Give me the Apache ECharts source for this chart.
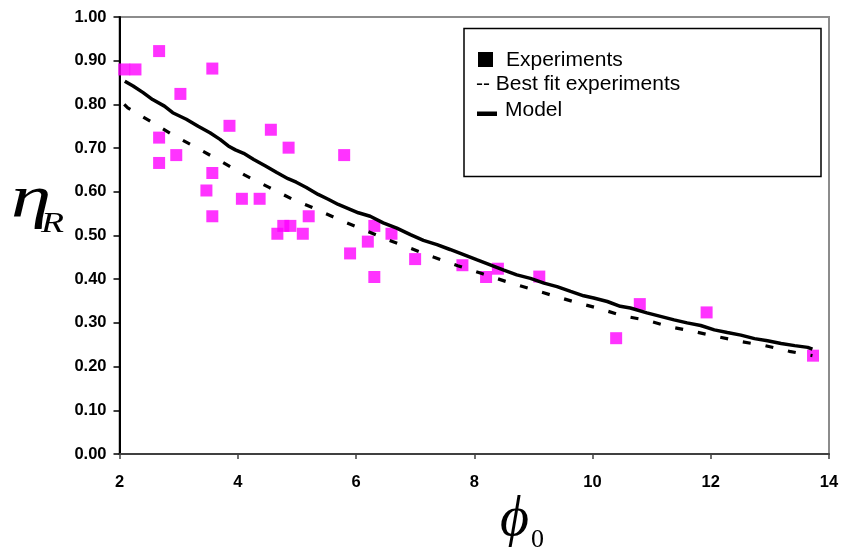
<!DOCTYPE html>
<html>
<head>
<meta charset="utf-8">
<script src="https://cdn.jsdelivr.net/npm/echarts@6/dist/echarts.min.js"></script>
<style>
html,body{margin:0;padding:0;background:#fff;}
#chart{width:844px;height:552px;}
</style>
</head>
<body>
<div id="chart"></div>
<script>
// Experiments (phi0, etaR)
const expX = [2.08, 2.27, 2.67, 3.57, 3.03, 2.67, 2.96, 2.67, 3.86, 4.56, 4.86, 5.80, 3.57, 3.47, 4.07, 4.37, 3.57, 4.67, 4.77, 4.89, 5.10, 5.20, 6.31, 6.20, 5.90, 6.31, 6.60, 7.00, 7.80, 8.20, 8.40, 9.10, 10.40, 10.80, 11.93, 13.73];
const expY = [0.880, 0.880, 0.922, 0.882, 0.824, 0.724, 0.684, 0.666, 0.751, 0.742, 0.701, 0.684, 0.643, 0.603, 0.584, 0.584, 0.544, 0.504, 0.522, 0.522, 0.504, 0.544, 0.522, 0.486, 0.459, 0.405, 0.504, 0.446, 0.432, 0.405, 0.424, 0.406, 0.265, 0.343, 0.324, 0.225];

// Best fit experiments (dashed)
const fitX = [2.08, 2.14, 2.54, 2.93, 3.33, 3.74, 4.12, 4.53, 4.91, 5.33, 5.72, 6.12, 6.52, 6.92, 7.32, 7.72, 8.13, 8.53, 8.92, 9.32, 9.72, 10.11, 10.52, 10.92, 11.31, 11.72, 12.13, 12.52, 12.92, 13.33, 13.72];
const fitY = [0.800, 0.792, 0.760, 0.728, 0.699, 0.668, 0.638, 0.610, 0.584, 0.560, 0.536, 0.514, 0.491, 0.471, 0.450, 0.431, 0.413, 0.395, 0.379, 0.363, 0.347, 0.333, 0.316, 0.306, 0.291, 0.280, 0.268, 0.257, 0.248, 0.235, 0.225];

// Model (solid)
const modelX = [2.09, 2.23, 2.40, 2.56, 2.76, 2.90, 3.13, 3.33, 3.53, 3.70, 3.84, 3.96, 4.10, 4.27, 4.47, 4.66, 4.85, 4.99, 5.16, 5.36, 5.53, 5.70, 5.90, 6.04, 6.24, 6.46, 6.69, 6.92, 7.14, 7.37, 7.59, 7.82, 8.05, 8.27, 8.50, 8.72, 8.95, 9.18, 9.40, 9.63, 9.85, 10.02, 10.25, 10.47, 10.64, 10.92, 11.15, 11.38, 11.60, 11.83, 12.06, 12.28, 12.51, 12.74, 12.96, 13.19, 13.42, 13.64, 13.72];
const modelY = [0.853, 0.842, 0.827, 0.811, 0.796, 0.781, 0.766, 0.750, 0.735, 0.720, 0.705, 0.696, 0.688, 0.674, 0.659, 0.644, 0.630, 0.622, 0.610, 0.594, 0.583, 0.571, 0.560, 0.552, 0.544, 0.529, 0.517, 0.502, 0.489, 0.479, 0.468, 0.456, 0.444, 0.433, 0.421, 0.410, 0.402, 0.391, 0.383, 0.372, 0.362, 0.357, 0.349, 0.338, 0.334, 0.323, 0.315, 0.307, 0.300, 0.294, 0.284, 0.278, 0.272, 0.264, 0.259, 0.253, 0.248, 0.244, 0.240];

const xTicks = [2, 4, 6, 8, 10, 12, 14];
const yTicks = [0.00, 0.10, 0.20, 0.30, 0.40, 0.50, 0.60, 0.70, 0.80, 0.90, 1.00];

const legendNames = ['Experiments', 'Best fit experiments', 'Model'];

const zip = (xs, ys) => xs.map((x, i) => [x, ys[i]]);

const chart = echarts.init(document.getElementById('chart'), null, {renderer: 'canvas'});

const labelFont = {fontFamily: 'Liberation Sans, Arial, sans-serif', fontSize: 16.5, fontWeight: 'bold', color: '#000'};
const legFont = 'normal 21px "Liberation Sans", Arial, sans-serif';

chart.setOption({
  backgroundColor: '#fff',
  animation: false,
  grid: {
    left: 119.5, right: 15, top: 17, bottom: 98,
    show: true, borderColor: '#8c8c8c', borderWidth: 2, backgroundColor: 'transparent'
  },
  xAxis: {
    type: 'value', min: xTicks[0], max: xTicks[xTicks.length - 1], interval: 2,
    axisLine: {show: true, onZero: false, lineStyle: {color: '#404040', width: 2}},
    axisTick: {show: true, length: 5, lineStyle: {color: '#404040', width: 1.5}},
    splitLine: {show: false},
    axisLabel: Object.assign({margin: 20, formatter: v => String(v)}, labelFont)
  },
  yAxis: {
    type: 'value', min: yTicks[0], max: yTicks[yTicks.length - 1], interval: 0.1,
    axisLine: {show: true, onZero: false, lineStyle: {color: '#000', width: 2}},
    axisTick: {show: true, length: 6, lineStyle: {color: '#000', width: 1.5}},
    splitLine: {show: false},
    axisLabel: Object.assign({margin: 13, formatter: v => v.toFixed(2)}, labelFont)
  },
  series: [
    {
      name: legendNames[0], type: 'scatter', symbol: 'rect', symbolSize: 12,
      itemStyle: {color: '#FF00FF'}, z: 2, clip: true,
      data: zip(expX, expY)
    },
    {
      name: legendNames[1], type: 'line', showSymbol: false, symbol: 'none', z: 3,
      lineStyle: {color: '#000', width: 3.2, type: [8, 15], cap: 'butt'},
      data: zip(fitX, fitY)
    },
    {
      name: legendNames[2], type: 'line', showSymbol: false, symbol: 'none', z: 4,
      lineStyle: {color: '#000', width: 3.5},
      data: zip(modelX, modelY)
    }
  ],
  graphic: [
    // legend box
    {type: 'rect', shape: {x: 464, y: 28.5, width: 357, height: 148}, style: {fill: '#fff', stroke: '#000', lineWidth: 1.5}, z: 10},
    {type: 'rect', shape: {x: 478, y: 52, width: 15, height: 15}, style: {fill: '#000'}, z: 11},
    {type: 'text', x: 506, y: 60, style: {text: legendNames[0], font: legFont, fill: '#000', verticalAlign: 'middle'}, z: 11},
    {type: 'text', x: 476, y: 84, style: {text: '-- ' + legendNames[1], font: legFont, fill: '#000', verticalAlign: 'middle'}, z: 11},
    {type: 'rect', shape: {x: 477, y: 111.5, width: 20, height: 4.5}, style: {fill: '#000'}, z: 11},
    {type: 'text', x: 505, y: 110, style: {text: legendNames[2], font: legFont, fill: '#000', verticalAlign: 'middle'}, z: 11},
    // y axis name eta_R
    {type: 'text', x: 11, y: 200, scaleX: 1.35, style: {text: 'η', font: 'italic 60px "Liberation Serif", "Times New Roman", serif', fill: '#000', verticalAlign: 'middle'}, z: 11},
    {type: 'text', x: 41, y: 224, scaleX: 1.3, style: {text: 'R', font: 'italic 29px "Liberation Serif", "Times New Roman", serif', fill: '#000', verticalAlign: 'middle'}, z: 11},
    // x axis name phi_0
    {type: 'text', x: 500, y: 520, style: {text: 'ϕ', font: 'italic 56px "Liberation Serif", "Times New Roman", serif', fill: '#000', verticalAlign: 'middle'}, z: 11},
    {type: 'text', x: 531, y: 540, style: {text: '0', font: 'normal 26px "Liberation Serif", "Times New Roman", serif', fill: '#000', verticalAlign: 'middle'}, z: 11}
  ]
});
</script>
</body>
</html>
